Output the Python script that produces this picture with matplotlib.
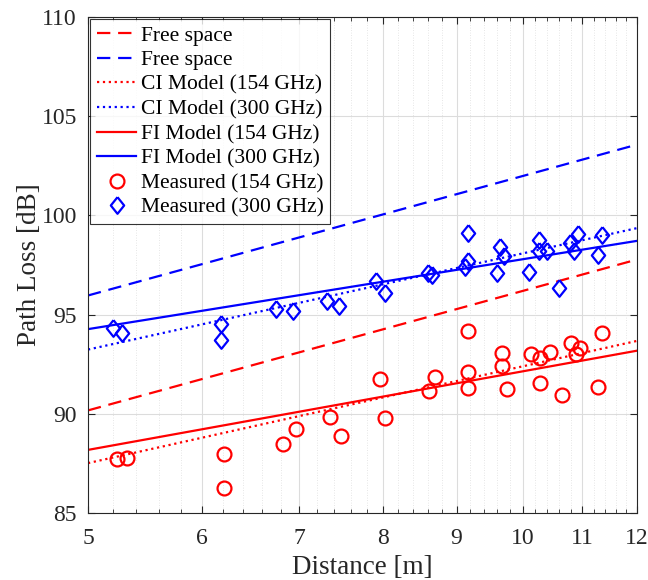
import numpy as np
import matplotlib
matplotlib.use("Agg")
import matplotlib.pyplot as plt
from matplotlib.ticker import FixedLocator, NullFormatter

plt.rcParams['font.family'] = ['Liberation Serif', 'DejaVu Serif']
plt.rcParams['mathtext.fontset'] = 'stix'

# measured points, 154 GHz
d_154 = [5.24, 5.32, 6.21, 6.21, 6.82, 6.97, 7.35, 7.49, 7.96, 8.03, 8.61, 8.70,
         9.16, 9.16, 9.16, 9.68, 9.68, 9.76, 10.14, 10.28, 10.28, 10.44, 10.65,
         10.81, 10.96, 10.88, 11.34, 11.27]
pl_154 = [87.72, 87.79, 87.97, 86.28, 88.48, 89.25, 89.84, 88.88, 91.75, 89.80,
          91.15, 91.87, 94.17, 92.12, 91.32, 93.05, 92.41, 91.25, 93.01, 92.81,
          91.57, 93.13, 90.96, 93.55, 93.32, 93.01, 94.09, 91.37]

# measured points, 300 GHz
d_300 = [5.20, 5.28, 6.18, 6.18, 6.75, 6.93, 7.32, 7.46, 7.92, 8.03, 8.60, 8.66,
         9.16, 9.17, 9.12, 9.64, 9.71, 9.60, 10.10, 10.26, 10.26, 10.39, 10.60,
         10.79, 10.92, 10.85, 11.35, 11.27]
pl_300 = [94.34, 94.09, 94.51, 93.72, 95.27, 95.20, 95.70, 95.43, 96.69, 96.07,
          97.11, 96.98, 99.10, 97.72, 97.41, 98.42, 97.95, 97.11, 97.15, 98.76,
          98.22, 98.22, 96.33, 98.59, 99.06, 98.22, 98.99, 97.99]

freqs_ghz = [154, 300]
ci_ple = [1.62, 1.61]        # CI model path loss exponent
fi_alpha = [78.99, 86.09]    # FI model intercept [dB]
fi_beta = [1.315, 1.17]      # FI model slope

c = 3e8
d = np.linspace(5, 12, 200)


def fspl(dist, f_ghz):
    return 20 * np.log10(4 * np.pi * dist * f_ghz * 1e9 / c)


fig, ax = plt.subplots(figsize=(6.48, 5.8), dpi=100)
fig.subplots_adjust(left=0.1358, right=0.983, bottom=0.1155, top=0.9707)

red, blue = '#ff0000', '#0000ff'
lw = 1.6

ax.plot(d, fspl(d, freqs_ghz[0]), '--', color=red, lw=lw, dashes=(6, 3.5), label='Free space')
ax.plot(d, fspl(d, freqs_ghz[1]), '--', color=blue, lw=lw, dashes=(6, 3.5), label='Free space')
ax.plot(d, fspl(1, freqs_ghz[0]) + 10 * ci_ple[0] * np.log10(d), ':', color=red, lw=lw,
        label='CI Model (154 GHz)')
ax.plot(d, fspl(1, freqs_ghz[1]) + 10 * ci_ple[1] * np.log10(d), ':', color=blue, lw=lw,
        label='CI Model (300 GHz)')
ax.plot(d, fi_alpha[0] + 10 * fi_beta[0] * np.log10(d), '-', color=red, lw=lw,
        label='FI Model (154 GHz)')
ax.plot(d, fi_alpha[1] + 10 * fi_beta[1] * np.log10(d), '-', color=blue, lw=lw,
        label='FI Model (300 GHz)')

diamond = [(0, 1), (0.8, 0), (0, -1), (-0.8, 0), (0, 1)]
ax.plot(d_154, pl_154, 'o', ms=10, mfc='none', mec=red, mew=1.6, label='Measured (154 GHz)')
ax.plot(d_300, pl_300, marker=diamond, ls='none', ms=12, mfc='none', mec=blue, mew=1.6,
        label='Measured (300 GHz)')

ax.set_xscale('log')
ax.set_xlim(5, 12)
ax.set_ylim(85, 110)
major_x = [5, 6, 7, 8, 9, 10, 11, 12]
ax.xaxis.set_major_locator(FixedLocator(major_x))
ax.set_xticklabels([str(v) for v in major_x])
minor_x = [round(v, 1) for v in np.arange(5.2, 12.0, 0.2) if abs(v - round(v)) > 1e-6]
ax.xaxis.set_minor_locator(FixedLocator(minor_x))
ax.xaxis.set_minor_formatter(NullFormatter())
ax.set_yticks([85, 90, 95, 100, 105, 110])

ax.grid(which='major', color='#dcdcdc', lw=0.8, ls='-')
ax.grid(which='minor', axis='x', color='#dedede', lw=0.6, ls=(0, (1, 2)))
ax.set_axisbelow(True)

ax.tick_params(which='both', direction='in', top=True, right=True, colors='#262626',
               labelcolor='#262626', labelsize=17)
ax.tick_params(which='major', length=5, width=0.8)
ax.tick_params(which='minor', length=3, width=0.6)
ax.tick_params(axis='x', which='major', pad=11)
ax.tick_params(axis='y', which='major', pad=8)
for s in ax.spines.values():
    s.set_color('#262626')
    s.set_linewidth(0.8)

ax.set_xlabel('Distance [m]', fontsize=19.5, color='#262626', labelpad=4)
ax.set_ylabel('Path Loss [dB]', fontsize=19.5, color='#262626', labelpad=0)

leg = ax.legend(loc='upper left', fontsize=15.5, frameon=True, fancybox=False,
                edgecolor='black', borderaxespad=0.1, handlelength=1.85,
                handletextpad=0.2, labelspacing=0.21, borderpad=0.3)
leg.get_frame().set_linewidth(0.8)

plt.savefig('out.png', dpi=100)
